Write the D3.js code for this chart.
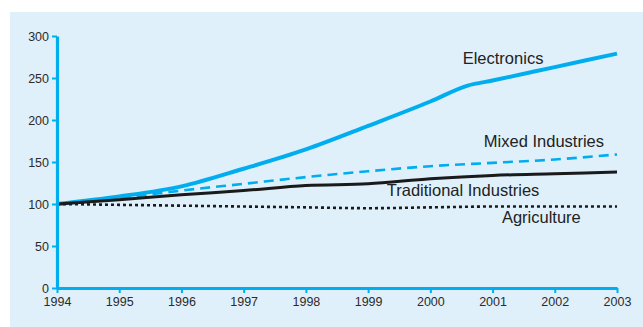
<!DOCTYPE html>
<html>
<head>
<meta charset="utf-8">
<script src="https://cdn.jsdelivr.net/npm/d3@7"></script>
<style>
  html, body { margin: 0; padding: 0; background: #fff; }
  svg { display: block; font-family: "Liberation Sans", Arial, sans-serif; }
</style>
</head>
<body>
<div id="chart"></div>
<script>
// Index values, 1994 = 100
const years = [1994, 1995, 1996, 1997, 1998, 1999, 2000, 2001, 2002, 2003];
// electronics has an extra reading where the curve bends in late 2000
const electronicsYears = [1994, 1995, 1996, 1997, 1998, 1999, 2000, 2000.6, 2001, 2002, 2003];
const electronics = [100, 109, 121, 142, 165, 193, 222, 241, 247, 263, 279];
const mixedIndustries = [100, 107, 116, 124, 132, 139, 145, 149, 153, 159];
const traditionalIndustries = [100, 105, 111, 116, 122, 124, 130, 134, 136, 138];
const agriculture = [100, 99, 98, 97, 96, 95, 96, 97, 97, 97];
const yTicks = [0, 50, 100, 150, 200, 250, 300];

const series = [
    { name: "Electronics", xs: electronicsYears, values: electronics, color: "#00aeef", width: 4, dash: null,
      label: { year: 2000.52, value: 266.5 } },
    { name: "Mixed Industries", xs: years, values: mixedIndustries, color: "#00aeef", width: 2.6, dash: "10,6",
      label: { year: 2000.86, value: 168 } },
    { name: "Traditional Industries", xs: years, values: traditionalIndustries, color: "#1a1a1a", width: 3, dash: null,
      label: { year: 1999.3, value: 109 } },
    { name: "Agriculture", xs: years, values: agriculture, color: "#1a1a1a", width: 2.6, dash: "3,3",
      label: { year: 2001.15, value: 77 } }
];

const W = 643, H = 327;

const svg = d3.select("#chart")
    .append("svg")
    .attr("width", W)
    .attr("height", H);

// light blue panel
svg.append("rect")
    .attr("x", 10)
    .attr("y", 12)
    .attr("width", W - 10)
    .attr("height", H - 12)
    .attr("fill", "#dff0fb");

const x = d3.scaleLinear().domain([1994, 2003]).range([57, 617]);
const y = d3.scaleLinear().domain([0, 300]).range([288, 36]);

// Lines
const line = d3.line()
    .x(d => x(d[0]))
    .y(d => y(d[1]))
    .curve(d3.curveMonotoneX);

series.forEach(s => {
    svg.append("path")
        .datum(s.xs.map((yr, i) => [yr, s.values[i]]))
        .attr("fill", "none")
        .attr("stroke", s.color)
        .attr("stroke-width", s.width)
        .attr("stroke-dasharray", s.dash)
        .attr("d", line);
});

// Axes
const yAxis = svg.append("g")
    .attr("transform", `translate(${x(1994)},0)`)
    .call(d3.axisLeft(y).tickValues(yTicks).tickSize(5).tickSizeOuter(0).tickPadding(3));

const xAxis = svg.append("g")
    .attr("transform", `translate(0,${y(0)})`)
    .call(d3.axisBottom(x).tickValues(years).tickFormat(d3.format("d")).tickSize(5).tickSizeOuter(0).tickPadding(4));

[yAxis, xAxis].forEach(g => {
    g.select(".domain").attr("stroke", "#00aeef").attr("stroke-width", 3.2);
    g.selectAll(".tick line").attr("stroke", "#00aeef").attr("stroke-width", 2);
    g.selectAll(".tick text")
        .attr("fill", "#2b2b2b")
        .attr("font-size", "12.5px")
        .attr("font-family", "'Liberation Sans', Arial, sans-serif");
});

// Series labels
series.forEach(s => {
    svg.append("text")
        .attr("x", x(s.label.year))
        .attr("y", y(s.label.value))
        .attr("fill", "#222")
        .attr("font-size", "16.5px")
        .text(s.name);
});
</script>
</body>
</html>
